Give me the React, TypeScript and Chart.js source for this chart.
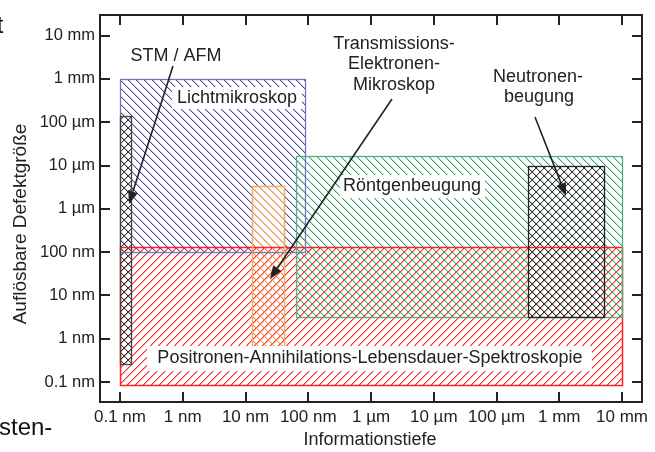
import React, { useEffect, useRef } from "react";
import { Chart, registerables } from "chart.js";

Chart.register(...registerables);

// ---- data (all lengths in nm) ----
const tickValues = [0.1, 1, 10, 100, 1e3, 1e4, 1e5, 1e6, 1e7];
const xTickLabels = ["0.1 nm", "1 nm", "10 nm", "100 nm", "1 µm", "10 µm", "100 µm", "1 mm", "10 mm"];
const yTickLabels = ["0.1 nm", "1 nm", "10 nm", "100 nm", "1 µm", "10 µm", "100 µm", "1 mm", "10 mm"];

const methods = ["Positronen-Annihilations-Lebensdauer-Spektroskopie", "Lichtmikroskop", "Transmissions-Elektronen-Mikroskop", "Röntgenbeugung", "STM / AFM", "Neutronenbeugung"];
const depthMin = [0.1, 0.1, 12.6, 63, 0.1, 3.16e5];
const depthMax = [1e7, 90, 41, 1e7, 0.152, 5.2e6];
const sizeMin = [0.085, 100, 0.6, 3.2, 0.26, 3.2];
const sizeMax = [130, 1e6, 3400, 17000, 1.37e5, 1e4];

// styles (separate from data)
const lineColors = ["#ff3030", "#46469c", "#f0a050", "#38a66a", "#333333", "#333333"];
const fringeAlpha = [0.55, 0.3, 0.45, 0.35, 0.2, 0.15];
const borderColors = ["#ff2020", "#7676c0", "#f2aa60", "#4cb47c", "#444444", "#222222"];
const borderWidths = [1.5, 1.3, 1.5, 1.3, 1.3, 1.3];
const hatchKinds = ["fwd", "back", "back", "back", "cross", "cross"];

const FONT = '"Liberation Sans", Arial, sans-serif';

function makePattern(ctx: CanvasRenderingContext2D, kind: string, s: number, color: string, fringe: number) {
  const tile = document.createElement("canvas");
  tile.width = s;
  tile.height = s;
  const t = tile.getContext("2d")!;
  t.fillStyle = color;
  for (let pass = 0; pass < 2; pass++) {
    t.globalAlpha = pass === 0 ? fringe : 1;
    const off = pass === 0 ? 1 : 0;
    for (let i = 0; i < s; i++) {
      if (kind === "back" || kind === "cross") t.fillRect((i + off) % s, i, 1, 1);
      if (kind === "fwd" || kind === "cross") t.fillRect((i + off) % s, s - 1 - i, 1, 1);
    }
  }
  return ctx.createPattern(tile, "repeat")!;
}

function arrow(ctx: CanvasRenderingContext2D, xa: number, ya: number, xb: number, yb: number) {
  const ang = Math.atan2(yb - ya, xb - xa);
  const L = 13, W = 5;
  const bx = xb - L * Math.cos(ang), by = yb - L * Math.sin(ang);
  ctx.save();
  ctx.strokeStyle = "#222";
  ctx.fillStyle = "#222";
  ctx.lineWidth = 1.6;
  ctx.beginPath();
  ctx.moveTo(xa, ya);
  ctx.lineTo(bx, by);
  ctx.stroke();
  ctx.beginPath();
  ctx.moveTo(xb, yb);
  ctx.lineTo(bx + W * Math.sin(ang), by - W * Math.cos(ang));
  ctx.lineTo(bx - W * Math.sin(ang), by + W * Math.cos(ang));
  ctx.closePath();
  ctx.fill();
  ctx.beginPath();
  ctx.restore();
}

const regionsPlugin = {
  id: "regions",
  afterDatasetsDraw(chart: any) {
    const { ctx, scales } = chart;
    const xs = scales.x, ys = scales.y;
    const boxes = methods.map((_m, i) => ({
      x0: Math.round(xs.getPixelForValue(depthMin[i])),
      x1: Math.round(xs.getPixelForValue(depthMax[i])),
      y0: Math.round(ys.getPixelForValue(sizeMax[i])),
      y1: Math.round(ys.getPixelForValue(sizeMin[i])),
    }));
    boxes.forEach((b, i) => {
      ctx.save();
      ctx.fillStyle = makePattern(ctx, hatchKinds[i], 8, lineColors[i], fringeAlpha[i]);
      ctx.fillRect(b.x0, b.y0, b.x1 - b.x0, b.y1 - b.y0);
      ctx.restore();
    });
    boxes.forEach((b, i) => {
      ctx.save();
      ctx.beginPath();
      ctx.strokeStyle = borderColors[i];
      ctx.lineWidth = borderWidths[i];
      ctx.strokeRect(b.x0 + 0.5, b.y0 + 0.5, b.x1 - b.x0, b.y1 - b.y0);
      ctx.beginPath();
      ctx.restore();
    });
  },
  afterDraw(chart: any) {
    const { ctx, chartArea, scales } = chart;
    const xs = scales.x, ys = scales.y;
    const { left, right, top, bottom } = chartArea;

    // white label boxes + labels
    ctx.save();
    ctx.font = `18px ${FONT}`;
    ctx.textAlign = "center";
    ctx.textBaseline = "middle";
    const boxed: [string, number, number, number, number, number, number][] = [
      ["Lichtmikroskop", 172, 87, 130, 22, 237, 98],
      ["Röntgenbeugung", 340, 175, 145, 23, 412, 186],
      ["Positronen-Annihilations-Lebensdauer-Spektroskopie", 147, 346, 445, 25, 370, 358],
    ];
    for (const [t, bx, by, bw, bh, tx, ty] of boxed) {
      ctx.fillStyle = "#ffffff";
      ctx.fillRect(bx, by, bw, bh);
      ctx.fillStyle = "#222";
      ctx.fillText(t, tx, ty);
    }
    ctx.fillStyle = "#222";
    ctx.fillText("STM / AFM", 176, 56);
    ctx.fillText("Transmissions-", 394, 44);
    ctx.fillText("Elektronen-", 394, 64);
    ctx.fillText("Mikroskop", 394, 85);
    ctx.fillText("Neutronen-", 538, 77);
    ctx.fillText("beugung", 539, 97);
    ctx.restore();

    arrow(ctx, 173, 66, 129, 204);
    arrow(ctx, 392, 99, 270, 279);
    arrow(ctx, 535, 117, 566, 196);

    // frame and inside ticks
    ctx.save();
    ctx.strokeStyle = "#222";
    ctx.lineWidth = 2;
    ctx.beginPath();
    ctx.rect(left, top, right - left, bottom - top);
    ctx.stroke();
    ctx.beginPath();
    for (const v of tickValues) {
      const px = Math.round(xs.getPixelForValue(v));
      ctx.moveTo(px, bottom); ctx.lineTo(px, bottom - 10);
      ctx.moveTo(px, top); ctx.lineTo(px, top + 10);
      const py = Math.round(ys.getPixelForValue(v));
      ctx.moveTo(left, py); ctx.lineTo(left + 10, py);
      ctx.moveTo(right, py); ctx.lineTo(right - 10, py);
    }
    ctx.stroke();
    ctx.beginPath();
    ctx.restore();

    // axis titles
    ctx.save();
    ctx.fillStyle = "#222";
    ctx.textAlign = "center";
    ctx.textBaseline = "middle";
    ctx.font = `18px ${FONT}`;
    ctx.fillText("Informationstiefe", 370, 440);
    ctx.translate(21, 224);
    ctx.rotate(-Math.PI / 2);
    ctx.font = `19px ${FONT}`;
    ctx.fillText("Auflösbare Defektgröße", 0, 0);
    ctx.restore();

    // cropped text fragments from the original figure
    ctx.save();
    ctx.fillStyle = "#111";
    ctx.font = `24px ${FONT}`;
    ctx.textBaseline = "alphabetic";
    ctx.textAlign = "right";
    ctx.fillText("t", 3.5, 33);
    ctx.textAlign = "left";
    ctx.fillText("sten-", -1, 435);
    ctx.restore();
  },
};

export default function App() {
  const ref = useRef<HTMLCanvasElement | null>(null);
  useEffect(() => {
    if (!ref.current) return;
    const setTicks = (scale: any) => {
      scale.ticks = tickValues.map((v) => ({ value: v }));
    };
    const chart = new Chart(ref.current, {
      type: "scatter",
      data: { datasets: [{ data: [] }] },
      options: {
        animation: false,
        responsive: false,
        devicePixelRatio: 1,
        layout: { padding: { top: 12, right: 13, left: 0, bottom: 0 } },
        plugins: { legend: { display: false }, tooltip: { enabled: false } },
        scales: {
          x: {
            type: "logarithmic",
            min: 0.048,
            max: 2.08e7,
            afterBuildTicks: setTicks,
            afterFit: (s: any) => { s.height = 50; },
            grid: { display: false, drawTicks: false },
            border: { display: false },
            ticks: {
              autoSkip: false,
              maxRotation: 0,
              padding: 5,
              color: "#222",
              font: { family: FONT, size: 17 },
              callback: (_v: any, i: number) => xTickLabels[i],
            },
          },
          y: {
            type: "logarithmic",
            min: 0.0347,
            max: 3.0e7,
            afterBuildTicks: setTicks,
            afterFit: (s: any) => { s.width = 100; },
            grid: { display: false, drawTicks: false },
            border: { display: false },
            ticks: {
              autoSkip: false,
              padding: 5,
              color: "#222",
              font: { family: FONT, size: 16.5 },
              callback: (_v: any, i: number) => yTickLabels[i],
            },
          },
        },
      },
      plugins: [regionsPlugin],
    } as any);
    return () => chart.destroy();
  }, []);
  return (
    <div style={{ position: "absolute", left: 0, top: 0, width: 655, height: 452, background: "#fff" }}>
      <canvas ref={ref} width={655} height={452} style={{ width: 655, height: 452 }} />
    </div>
  );
}
